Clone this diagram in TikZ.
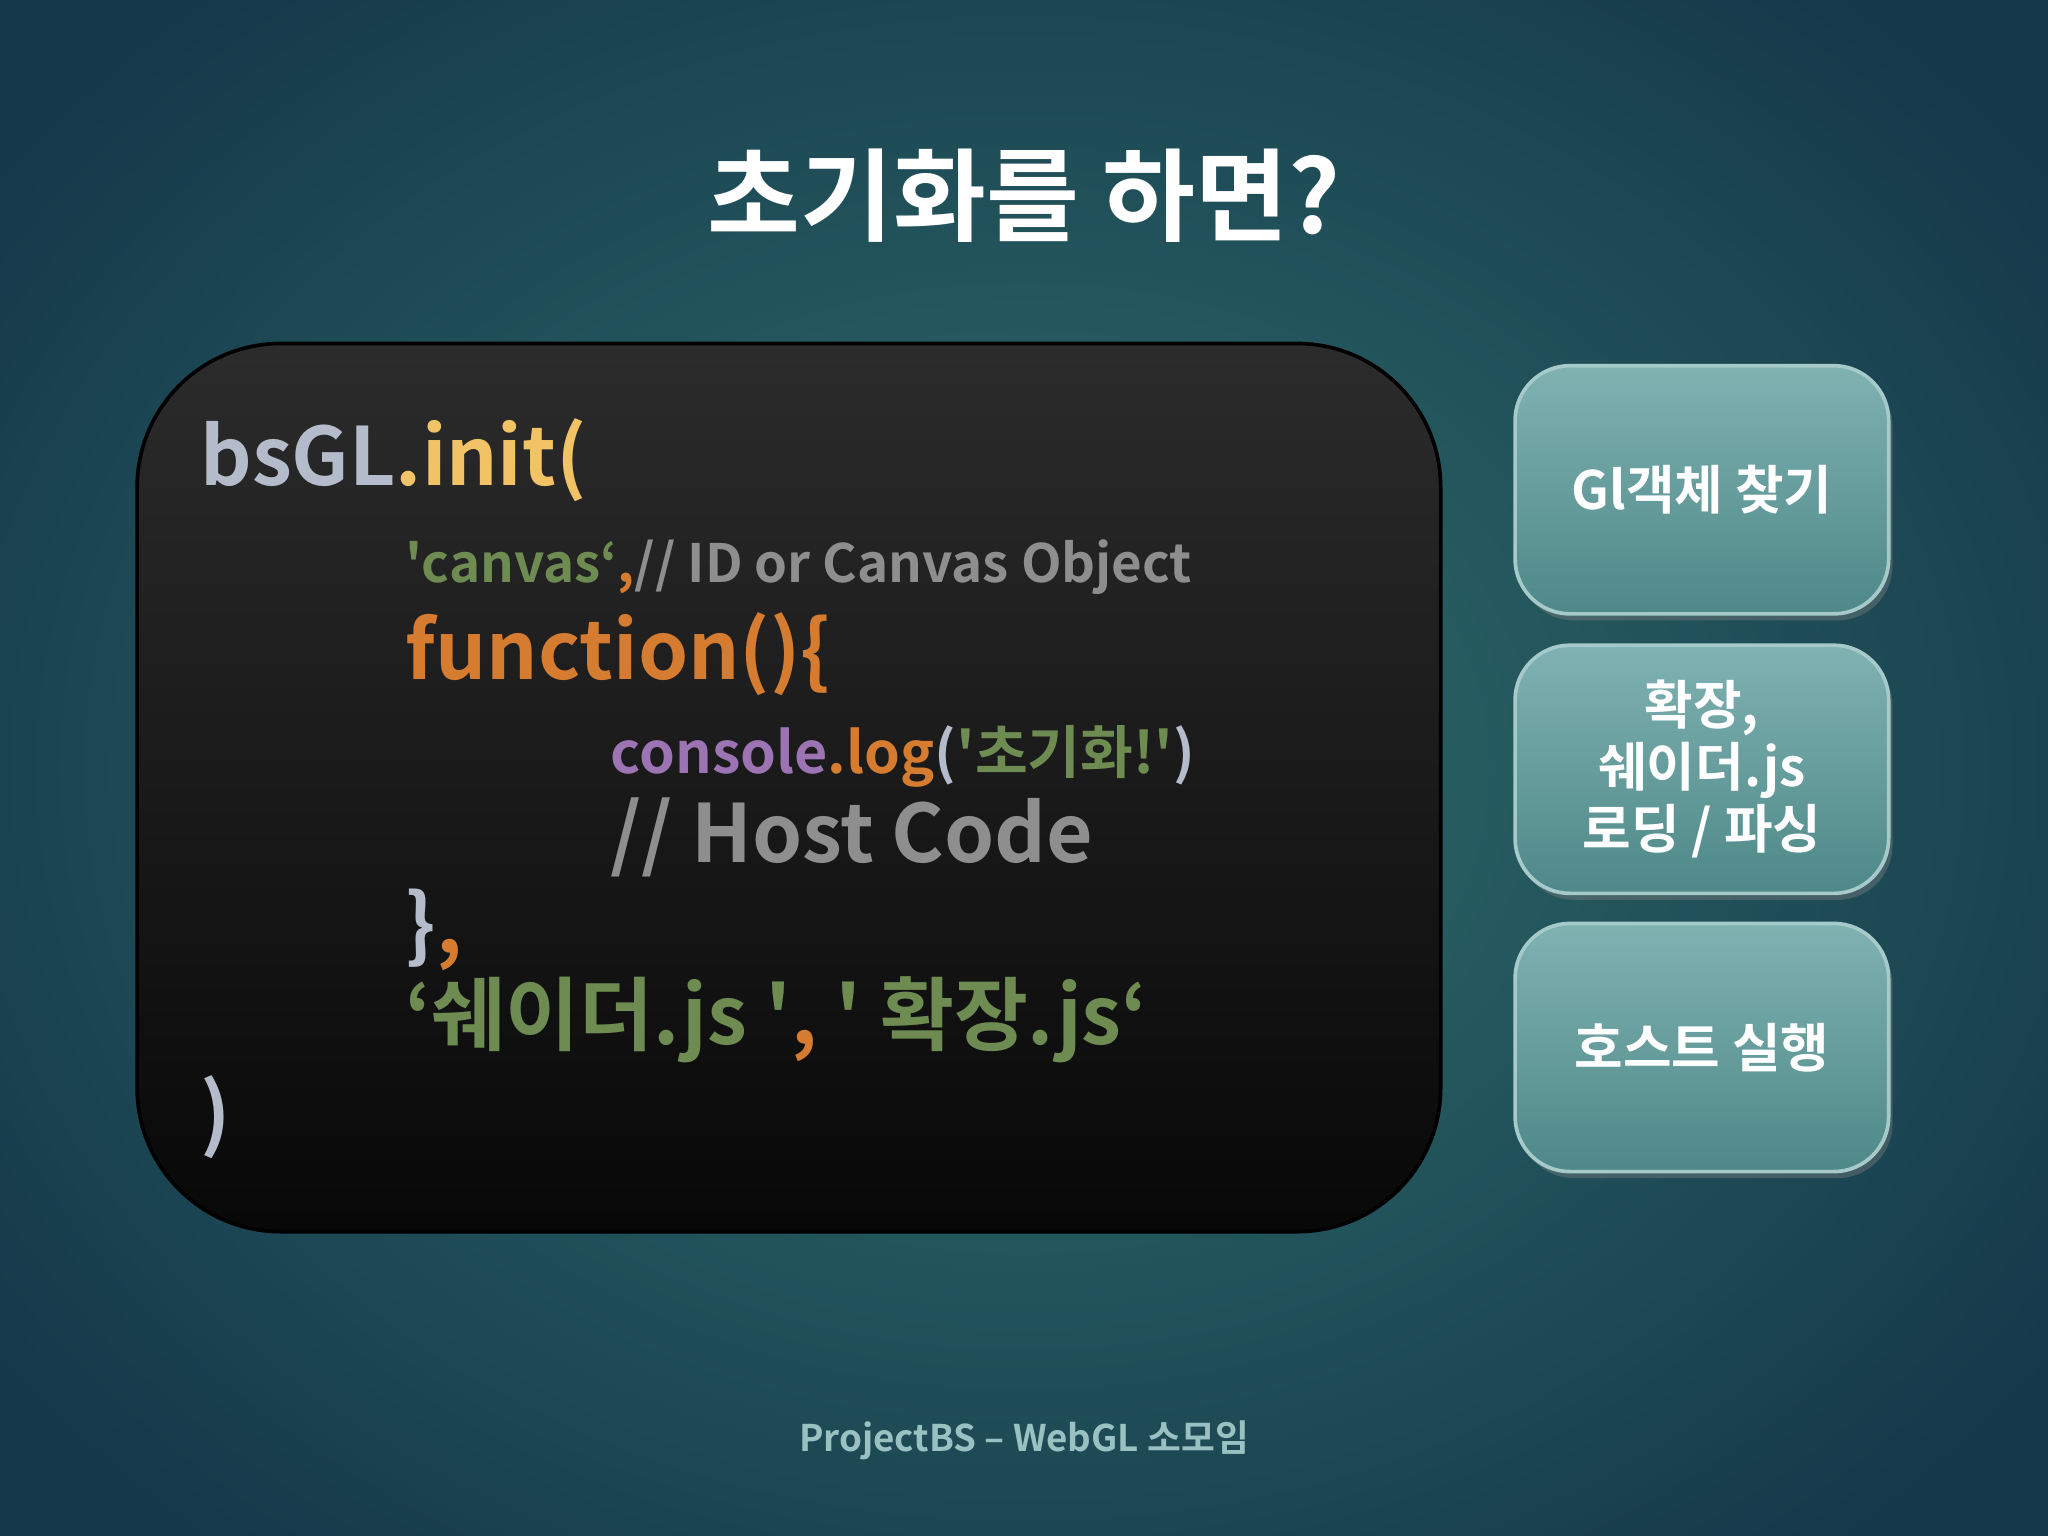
\documentclass[tikz,border=0pt]{standalone}
\usepackage{fontspec}
\setmainfont{Noto Sans CJK KR}
\newfontfamily\kb{Noto Sans CJK KR Bold}
\usetikzlibrary{shadows}
\definecolor{bgin}{HTML}{2F6E6C}
\definecolor{bgout}{HTML}{15384A}
\definecolor{cgray}{HTML}{B4BCCC}
\definecolor{cyel}{HTML}{F2C366}
\definecolor{cgreen}{HTML}{6E8C52}
\definecolor{corange}{HTML}{D57C30}
\definecolor{ccom}{HTML}{8E8E8E}
\definecolor{cpurp}{HTML}{9C74B4}
\definecolor{btop}{HTML}{80B2B2}
\definecolor{bbot}{HTML}{4E8888}
\tikzset{
 code/.style={anchor=base west,inner sep=0pt,font=\kb\fontsize{17.5}{20}\selectfont},
 small/.style={anchor=base west,inner sep=0pt,font=\kb\fontsize{11.5}{14}\selectfont},
 stepbox/.style={draw=btop!70!white,line width=0.8pt,rounded corners=0.42cm,top color=btop,bottom color=bbot,
   minimum width=2.86cm,minimum height=1.9cm,text=white,align=center,
   font=\kb\fontsize{11.5}{13.5}\selectfont,drop shadow={opacity=0.4,shadow xshift=0.03cm,shadow yshift=-0.05cm}}
}
\begin{document}
\begin{tikzpicture}[y=-1cm]
\useasboundingbox (0,0) rectangle (15.68,11.76);
\shade[inner color=bgin,outer color=bgout] (-2,-2) rectangle (17.68,13.76);
\clip (0,0) rectangle (15.68,11.76);
\node[text=white,font=\kb\fontsize{22}{26}\selectfont] (title) at (7.84,1.5) {초기화를 하면?};
\node[draw=black,line width=0.8pt,rounded corners=1.1cm,top color=black!83,bottom color=black!97,
  minimum width=9.98cm,minimum height=6.8cm,inner sep=0pt] (codebox) at (6.04,6.03) {};
\node[code] (l1) at (1.53,3.72) {\textcolor{cgray}{bsGL}\textcolor{cyel}{.init(}};
\node[small] (l2) at (3.1,4.46) {\textcolor{cgreen}{'canvas‘}\textcolor{corange}{ ,}\textcolor{ccom}{ // ID or Canvas Object}};
\node[code,text=corange] (l3) at (3.1,5.2) {function()\{};
\node[small,font=\kb\fontsize{12.5}{14}\selectfont] (l4) at (4.67,5.92) {\textcolor{cpurp}{console}\textcolor{corange}{.log}\textcolor{cgray}{(}\textcolor{cgreen}{'초기화!'}\textcolor{cgray}{)}};
\node[code,text=ccom] (l5) at (4.67,6.6) {// Host Code};
\node[code] (l6) at (3.1,7.3) {\textcolor{cgray}{\}}\textcolor{corange}{,}};
\node[code] (l7) at (3.1,8.0) {\textcolor{cgreen}{‘쉐이더.js '}\textcolor{corange}{ , }\textcolor{cgreen}{' 확장.js‘}};
\node[code,text=cgray] (l8) at (1.53,8.75) {)};
\node[stepbox] (b1) at (13.03,3.75) {Gl객체 찾기};
\node[stepbox] (b2) at (13.03,5.89) {확장,\\쉐이더.js\\로딩 / 파싱};
\node[stepbox] (b3) at (13.03,8.02) {호스트 실행};
\node[text=btop!80!white,font=\kb\fontsize{8}{10}\selectfont] (foot) at (7.84,11.03) {ProjectBS – WebGL 소모임};
\end{tikzpicture}
\end{document}
